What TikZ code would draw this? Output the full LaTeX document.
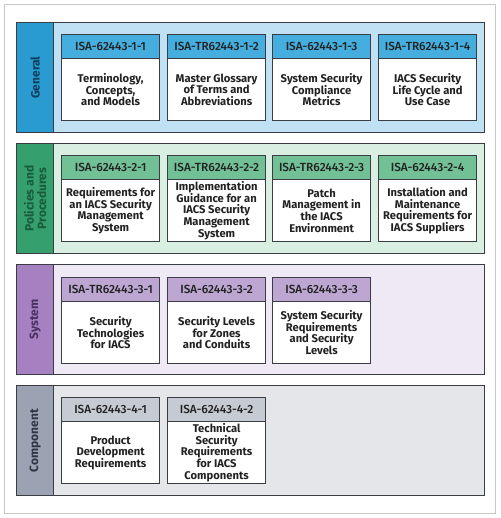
\documentclass[tikz,border=0pt]{standalone}
\usepackage{fontspec}
\setmainfont{Fira Sans}
\newfontfamily\medfont{Fira Sans Medium}
\definecolor{bordc}{HTML}{3A3E44}
\definecolor{framec}{HTML}{C8C8C8}
\definecolor{blueS}{HTML}{2A9BD1}
\definecolor{blueH}{HTML}{45AEDF}
\definecolor{blueF}{HTML}{C0E1F3}
\definecolor{blueT}{HTML}{0F3D5E}
\definecolor{greenS}{HTML}{35A06E}
\definecolor{greenH}{HTML}{72C095}
\definecolor{greenF}{HTML}{D8EFE2}
\definecolor{greenT}{HTML}{1A5A3C}
\definecolor{purpS}{HTML}{A581C2}
\definecolor{purpH}{HTML}{BDA6D2}
\definecolor{purpF}{HTML}{EFE9F5}
\definecolor{purpT}{HTML}{4A3060}
\definecolor{grayS}{HTML}{9BA2B1}
\definecolor{grayH}{HTML}{C6CAD2}
\definecolor{grayF}{HTML}{E5E6EA}
\definecolor{grayT}{HTML}{2F3542}
\definecolor{txt}{HTML}{222222}
\begin{document}
\begin{tikzpicture}[x=1pt,y=-1pt,
  band/.style={draw=bordc, line width=1.3pt, fill=#1, anchor=north west,
    minimum width=468pt, minimum height=110pt, inner sep=0pt},
  strip/.style={draw=bordc, line width=1.3pt, fill=#1, anchor=north west,
    minimum width=37pt, minimum height=110pt, inner sep=0pt},
  striplabel/.style={rotate=90, text=#1, align=center,
    font=\bfseries\fontsize{12}{12.5}\selectfont, inner sep=0pt},
  card/.style={draw=bordc, line width=1.2pt, fill=white, anchor=north west,
    minimum width=98pt, minimum height=86pt, inner sep=0pt},
  hdr/.style={draw=bordc, line width=1.2pt, fill=#1, anchor=north,
    minimum width=98pt, minimum height=24pt, inner sep=0pt, text=txt,
    font=\medfont\fontsize{11.8}{13}\selectfont},
  body/.style={align=center, text=txt, inner sep=0pt,
    font=\bfseries\fontsize{11.2}{11.6}\selectfont}
]
\useasboundingbox (0,0) rectangle (500,518);
\node[draw=framec, line width=0.8pt, anchor=north west, minimum width=491pt,
  minimum height=509pt, inner sep=0pt] (frame) at (4,4) {};

% ---------- General ----------
\node[band=blueF] (b1) at (16,22) {};
\node[strip=blueS] (s1) at (16,22) {};
\node[striplabel=blueT] (l1) at (s1.center) {General};
\foreach \i/\x/\code/\txt in {1/61/ISA-62443-1-1/{Terminology,\\Concepts,\\and Models},
  2/167/ISA-TR62443-1-2/{Master Glossary\\of Terms and\\Abbreviations},
  3/272/ISA-62443-1-3/{System Security\\Compliance\\Metrics},
  4/378/ISA-TR62443-1-4/{IACS Security\\Life Cycle and\\Use Case}}{
  \node[card] (c1\i) at (\x,34) {};
  \node[hdr=blueH] (h1\i) at (c1\i.north) {\code};
  \node[body] (t1\i) at ([yshift=-12pt]c1\i.center) {\txt};
}

% ---------- Policies and Procedures ----------
\node[band=greenF] (b2) at (16,143) {};
\node[strip=greenS] (s2) at (16,143) {};
\node[striplabel=greenT] (l2) at (s2.center) {Policies and\\Procedures};
\foreach \i/\x/\code/\txt in {1/61/ISA-62443-2-1/{Requirements for\\an IACS Security\\Management\\System},
  2/167/ISA-TR62443-2-2/{Implementation\\Guidance for an\\IACS Security\\Management\\System},
  3/272/ISA-TR62443-2-3/{Patch\\Management in\\the IACS\\Environment},
  4/378/ISA-62443-2-4/{Installation and\\Maintenance\\Requirements for\\IACS Suppliers}}{
  \node[card] (c2\i) at (\x,155) {};
  \node[hdr=greenH] (h2\i) at (c2\i.north) {\code};
  \node[body] (t2\i) at ([yshift=-12pt]c2\i.center) {\txt};
}

% ---------- System ----------
\node[band=purpF] (b3) at (16,264) {};
\node[strip=purpS] (s3) at (16,264) {};
\node[striplabel=purpT] (l3) at (s3.center) {System};
\foreach \i/\x/\code/\txt in {1/61/ISA-TR62443-3-1/{Security\\Technologies\\for IACS},
  2/167/ISA-62443-3-2/{Security Levels\\for Zones\\and Conduits},
  3/272/ISA-62443-3-3/{System Security\\Requirements\\and Security\\Levels}}{
  \node[card] (c3\i) at (\x,277) {};
  \node[hdr=purpH] (h3\i) at (c3\i.north) {\code};
  \node[body] (t3\i) at ([yshift=-12pt]c3\i.center) {\txt};
}

% ---------- Component ----------
\node[band=grayF] (b4) at (16,385) {};
\node[strip=grayS] (s4) at (16,385) {};
\node[striplabel=grayT] (l4) at (s4.center) {Component};
\foreach \i/\x/\code/\txt in {1/61/ISA-62443-4-1/{Product\\Development\\Requirements},
  2/167/ISA-62443-4-2/{Technical\\Security\\Requirements\\for IACS\\Components}}{
  \node[card] (c4\i) at (\x,397) {};
  \node[hdr=grayH] (h4\i) at (c4\i.north) {\code};
  \node[body] (t4\i) at ([yshift=-12pt]c4\i.center) {\txt};
}
\end{tikzpicture}
\end{document}
